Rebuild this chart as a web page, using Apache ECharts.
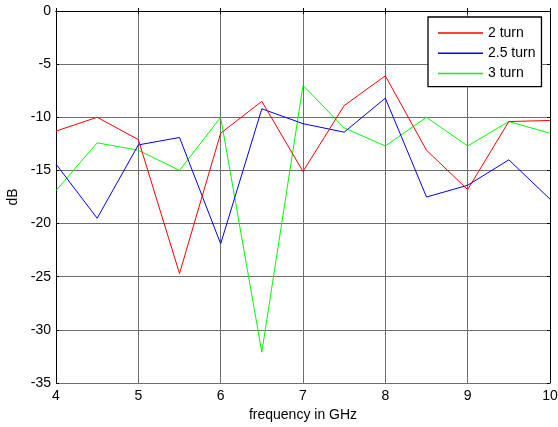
<!DOCTYPE html>
<html>
<head>
<meta charset="utf-8">
<script src="https://cdn.jsdelivr.net/npm/echarts@6/dist/echarts.min.js"></script>
<style>html,body{margin:0;padding:0;background:#fff;}#c{width:558px;height:427px;}</style>
</head>
<body>
<div id="c"></div>
<script>
var freq = [4, 4.5, 5, 5.5, 6, 6.5, 7, 7.5, 8, 8.5, 9, 9.5, 10];
var turn2 = [-11.3, -10.0, -12.1, -24.7, -11.5, -8.5, -15.1, -8.9, -6.1, -13.1, -16.8, -10.4, -10.3];
var turn25 = [-14.4, -19.5, -12.6, -11.9, -21.9, -9.2, -10.6, -11.4, -8.2, -17.5, -16.4, -14.0, -17.7];
var turn3 = [-16.9, -12.4, -13.1, -15.0, -10.0, -32.1, -7.0, -11.0, -12.7, -10.0, -12.7, -10.4, -11.5];
var seriesNames = ['2 turn', '2.5 turn', '3 turn'];
var seriesColors = ['#ff0000', '#0000ff', '#00ff00'];
var xTicks = [4, 5, 6, 7, 8, 9, 10];
var yTicks = [0, -5, -10, -15, -20, -25, -30, -35];

function pairs(ys) { return freq.map(function (f, i) { return [f, ys[i]]; }); }
var allData = [turn2, turn25, turn3];
var font = 'Liberation Sans, Arial, sans-serif';

var chart = echarts.init(document.getElementById('c'), null, {renderer: 'canvas'});
var gridLine = {show: true, lineStyle: {color: '#6e6e6e', width: 1, type: 'solid'}};
chart.setOption({
  animation: false,
  backgroundColor: '#fff',
  grid: {left: 56, right: 8, top: 11, bottom: 44, containLabel: false, outerBoundsMode: 'none'},
  legend: {
    orient: 'vertical', left: 428, top: 17,
    data: seriesNames,
    itemWidth: 45, itemHeight: 14, itemGap: 6.3,
    padding: [9, 6, 6, 10],
    borderColor: '#000', borderWidth: 1.3, backgroundColor: '#fff',
    textStyle: {fontFamily: font, fontSize: 14, color: '#000', padding: [0, 0, 0, 0]},
    icon: 'path://M0,0 L45,0 L45,1.5 L0,1.5 Z'
  },
  xAxis: [{
    type: 'value', min: 4, max: 10, interval: 1,
    name: 'frequency in GHz', nameLocation: 'middle', nameGap: 21,
    nameTextStyle: {fontFamily: font, fontSize: 14, color: '#000'},
    axisLine: {show: true, lineStyle: {color: '#000', width: 1}},
    axisTick: {show: true, inside: true, length: 3, lineStyle: {color: '#000'}},
    axisLabel: {fontFamily: font, fontSize: 14, color: '#000', margin: 6},
    splitLine: gridLine
  }, {
    type: 'value', min: 4, max: 10, interval: 1, position: 'top',
    axisLine: {show: true, lineStyle: {color: '#000', width: 1}},
    axisTick: {show: true, inside: true, length: 3, lineStyle: {color: '#000'}},
    axisLabel: {show: false}, splitLine: {show: false}
  }],
  yAxis: [{
    type: 'value', min: -35, max: 0, interval: 5,
    name: 'dB', nameLocation: 'middle', nameGap: 34, nameRotate: 90,
    nameTextStyle: {fontFamily: font, fontSize: 14, color: '#000'},
    axisLine: {show: true, lineStyle: {color: '#000', width: 1}},
    axisTick: {show: true, inside: true, length: 3, lineStyle: {color: '#000'}},
    axisLabel: {fontFamily: font, fontSize: 14, color: '#000', margin: 5},
    splitLine: gridLine
  }, {
    type: 'value', min: -35, max: 0, interval: 5, position: 'right',
    axisLine: {show: true, lineStyle: {color: '#000', width: 1}},
    axisTick: {show: true, inside: true, length: 3, lineStyle: {color: '#000'}},
    axisLabel: {show: false}, splitLine: {show: false}
  }],
  series: seriesNames.map(function (n, i) {
    return {
      name: n, type: 'line', data: pairs(allData[i]),
      symbol: 'none', showSymbol: false,
      lineStyle: {color: seriesColors[i], width: 1},
      itemStyle: {color: seriesColors[i]},
      z: 3 + (2 - i)
    };
  })
});
</script>
</body>
</html>
